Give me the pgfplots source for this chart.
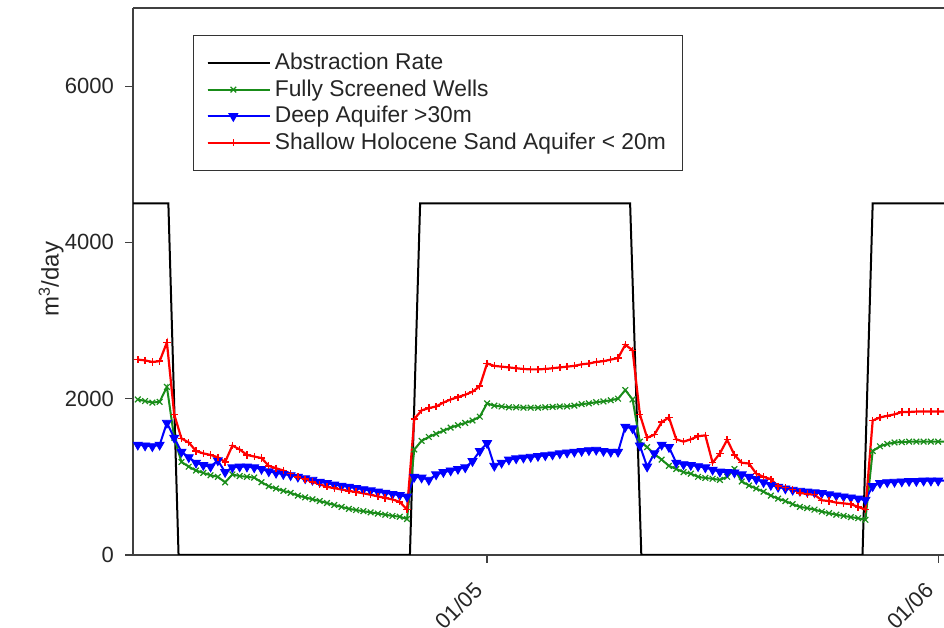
\documentclass[border=0pt]{standalone}
\usepackage{pgfplots}
\pgfplotsset{compat=1.18}
\usepackage{pgfplotstable}
\usepackage{fontspec}
\setmainfont{Liberation Sans}
\definecolor{fgreen}{RGB}{25,140,25}
\definecolor{dblue}{RGB}{0,0,255}
\definecolor{dred}{RGB}{255,0,0}

\pgfplotstableread{
day shallow full deep
-24.0 2500 1990 1410
-23.5 2490 1970 1400
-23.0 2470 1950 1390
-22.5 2480 1960 1410
-22.0 2720 2150 1690
-21.5 1800 1500 1500
-21.0 1490 1190 1320
-20.5 1440 1130 1250
-20.0 1330 1080 1180
-19.5 1300 1050 1150
-19.0 1280 1020 1130
-18.5 1250 1000 1210
-18.0 1190 930 1060
-17.5 1400 1030 1120
-17.0 1350 1010 1130
-16.5 1280 1000 1130
-16.0 1260 990 1120
-15.5 1240 930 1100
-15.0 1140 880 1070
-14.5 1110 850 1050
-14.0 1080 820 1035
-13.5 1040 795 1020
-13.0 1000 760 1000
-12.5 970 737 980
-12.0 935 713 960
-11.5 905 690 936
-11.0 872 665 920
-10.5 855 640 900
-10.0 838 615 885
-9.5 820 590 870
-9.0 805 575 855
-8.5 790 560 840
-8.0 770 545 825
-7.5 750 530 810
-7.0 730 515 795
-6.5 710 500 780
-6.0 680 490 765
-5.5 580 460 745
-5.0 1740 1350 1000
-4.5 1850 1460 990
-4.0 1880 1510 960
-3.5 1900 1550 1030
-3.0 1950 1590 1060
-2.5 1990 1630 1080
-2.0 2020 1660 1100
-1.5 2050 1690 1120
-1.0 2090 1720 1200
-0.5 2160 1770 1330
0.0 2450 1940 1430
0.5 2420 1910 1140
1.0 2410 1900 1180
1.5 2400 1890 1220
2.0 2390 1890 1235
2.5 2380 1885 1245
3.0 2375 1885 1255
3.5 2375 1885 1265
4.0 2380 1890 1275
4.5 2390 1895 1285
5.0 2400 1900 1300
5.5 2410 1900 1310
6.0 2420 1910 1320
6.5 2440 1930 1330
7.0 2450 1940 1340
7.5 2470 1955 1345
8.0 2480 1965 1330
8.5 2500 1980 1320
9.0 2520 2000 1320
9.5 2690 2110 1640
10.0 2620 1990 1620
10.5 1800 1450 1400
11.0 1500 1380 1130
11.5 1540 1290 1300
12.0 1700 1220 1410
12.5 1760 1140 1380
13.0 1480 1100 1180
13.5 1450 1060 1160
14.0 1480 1040 1150
14.5 1520 1000 1135
15.0 1530 985 1120
15.5 1180 975 1090
16.0 1300 960 1065
16.5 1474 1000 1060
17.0 1280 1100 1055
17.5 1180 940 1030
18.0 1170 890 1000
18.5 1040 850 970
19.0 1000 810 930
19.5 970 760 895
20.0 880 720 870
20.5 860 690 850
21.0 840 650 833
21.5 795 615 820
22.0 780 600 810
22.5 770 580 800
23.0 700 555 790
23.5 690 535 775
24.0 670 515 760
24.5 660 500 748
25.0 650 485 735
25.5 615 470 720
26.0 580 450 705
26.5 1720 1330 880
27.0 1760 1390 920
27.5 1780 1420 930
28.0 1800 1440 935
28.5 1830 1445 940
29.0 1830 1450 945
29.5 1835 1450 945
30.0 1835 1450 950
30.5 1835 1450 950
31.0 1835 1450 950
31.5 1835 1450 950
}\datatable

\pgfplotstableread{
day rate
-24.6 4500
-21.9 4500
-21.2 0
-5.3 0
-4.6 4500
9.83 4500
10.6 0
25.8 0
26.5 4500
31.6 4500
}\ratetable

\begin{document}
\begin{tikzpicture}
\begin{axis}[
  scale only axis,
  width=405.5pt, height=273.5pt,
  xmin=-24.33, xmax=31.4, ymin=0, ymax=7000,
  axis x line=box, axis y line=left,
  x axis line style={-}, y axis line style={-},
  axis line style={black!75, line width=0.6pt},
  xtick pos=lower, ytick pos=left,
  tick align=outside, major tick length=4pt,
  tick style={black!75, line width=0.6pt},
  xtick={0,31}, xticklabels={01/05,01/06},
  ytick={0,2000,4000,6000},
  /pgf/number format/set thousands separator={},
  /pgf/number format/assume math mode=true,
  tick label style={font=\fontsize{11}{13}\selectfont, black!85},
  x tick label style={yshift=-14.5pt, xshift=3.5pt, rotate=45, anchor=south east},
  y tick label style={xshift=-2pt},
  ylabel={m\textsuperscript{3}/day},
  label style={font=\fontsize{12}{14}\selectfont, black!85},
  y label style={at={(axis description cs:-0.101,0.504)}, anchor=center},
  legend cell align=left,
  legend style={at={(axis description cs:0.074,0.951)}, anchor=north west,
    draw=black!80, line width=0.6pt, font=\fontsize{11.4}{12.6}\selectfont,
    inner xsep=6.5pt, inner ysep=7pt, row sep=-0.5pt, text=black!85},
  legend image code/.code={\draw[mark repeat=2,mark phase=2] plot coordinates {(0cm,0cm) (0.45cm,0cm) (0.9cm,0cm)};\path (0cm,0cm) -- (1.09cm,0cm);},
]
\addplot[black, line width=1pt, no markers] table[x=day, y=rate] {\ratetable};
\addlegendentry{Abstraction Rate}
\addplot[fgreen, line width=1pt, mark=x, mark size=2pt, mark options={line width=0.6pt}] table[x=day, y=full] {\datatable};
\addlegendentry{Fully Screened Wells}
\addplot[dblue, line width=1pt, mark=triangle*, mark size=2.6pt, mark options={rotate=180, line width=0.4pt}] table[x=day, y=deep] {\datatable};
\addlegendentry{Deep Aquifer >30m}
\addplot[dred, line width=1.1pt, mark=+, mark size=1.8pt, mark options={line width=0.7pt}] table[x=day, y=shallow] {\datatable};
\addlegendentry{Shallow Holocene Sand Aquifer < 20m}
\coordinate (bbsw) at (rel axis cs:-0.164,-0.1335);
\coordinate (bbne) at (rel axis cs:1,1.0146);
\end{axis}
\pgfresetboundingbox
\path[use as bounding box] (bbsw) rectangle (bbne);
\end{tikzpicture}
\end{document}
